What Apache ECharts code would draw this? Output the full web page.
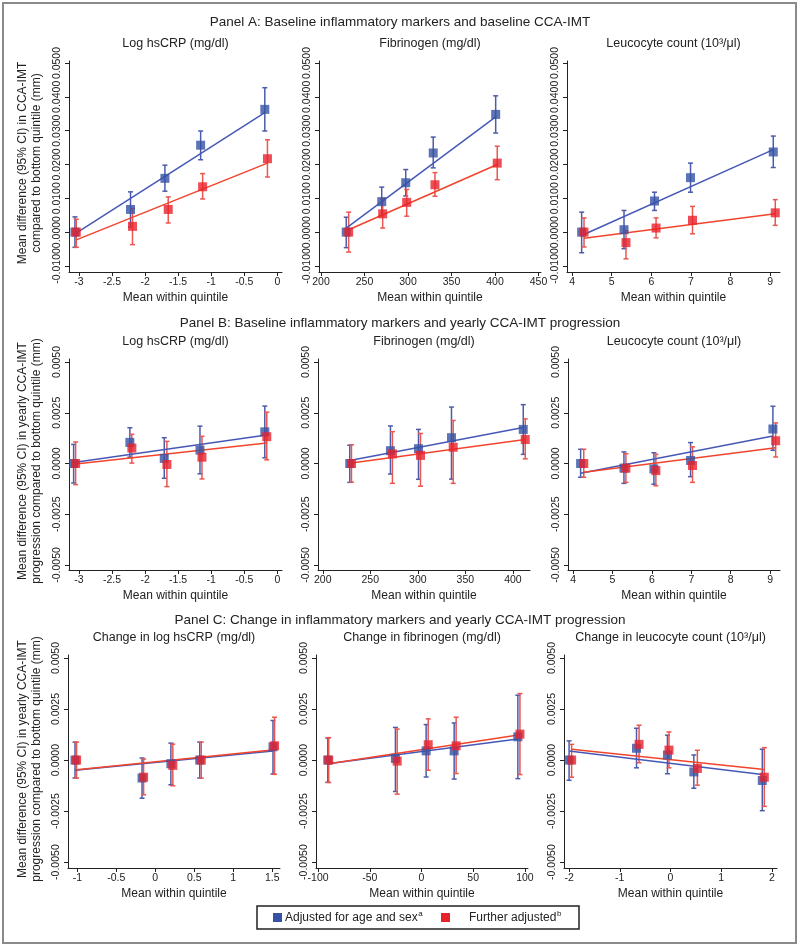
<!DOCTYPE html>
<html><head><meta charset="utf-8">
<script src="https://cdn.jsdelivr.net/npm/echarts@6/dist/echarts.min.js"></script>
<style>html,body{margin:0;padding:0;background:#fff}#c{width:800px;height:948px}</style>
</head><body><div id="c"></div>
<script>
// ---------- DATA: rows are [x (mean within quintile), mean difference, lower 95% CI, upper 95% CI] ----------
// Panel A: baseline markers vs baseline CCA-IMT
const a1Blue = [[-3.06,0.0000,-0.0045,0.0045],[-2.22,0.0067,0.0015,0.0119],[-1.70,0.0159,0.0121,0.0198],[-1.16,0.0257,0.0214,0.0299],[-0.19,0.0363,0.0299,0.0427]];
const a1Red  = [[-3.04,0.0000,-0.0045,0.0038],[-2.19,0.0017,-0.0037,0.0070],[-1.65,0.0067,0.0027,0.0104],[-1.13,0.0134,0.0098,0.0173],[-0.15,0.0217,0.0163,0.0273]];
const a1FitBlue = [[-3.06,-0.0005],[-0.19,0.0353]];
const a1FitRed  = [[-3.04,-0.0023],[-0.15,0.0204]];

const a2Blue = [[229.0,0.0000,-0.0046,0.0044],[269.8,0.0090,0.0049,0.0133],[297.4,0.0146,0.0107,0.0185],[329.0,0.0234,0.0190,0.0281],[400.8,0.0348,0.0293,0.0403]];
const a2Red  = [[231.8,0.0000,-0.0059,0.0059],[270.9,0.0054,0.0012,0.0100],[298.5,0.0088,0.0047,0.0126],[331.0,0.0140,0.0106,0.0176],[402.6,0.0204,0.0155,0.0254]];
const a2FitBlue = [[229.0,0.0012],[400.8,0.0341]];
const a2FitRed  = [[231.8,0.0007],[402.6,0.0200]];

const a3Blue = [[4.24,0.0000,-0.0061,0.0059],[5.31,0.0007,-0.0049,0.0064],[6.08,0.0092,0.0064,0.0118],[6.99,0.0161,0.0118,0.0204],[9.08,0.0237,0.0191,0.0284]];
const a3Red  = [[4.30,0.0000,-0.0044,0.0042],[5.36,-0.0031,-0.0079,0.0004],[6.12,0.0012,-0.0017,0.0042],[7.04,0.0035,-0.0005,0.0076],[9.13,0.0057,0.0020,0.0096]];
const a3FitBlue = [[4.24,-0.0010],[9.08,0.0244]];
const a3FitRed  = [[4.30,-0.0018],[9.13,0.0054]];

// Panel B: baseline markers vs yearly CCA-IMT progression
const b1Blue = [[-3.08,0,-0.00096,0.00094],[-2.23,0.00104,0.00031,0.00176],[-1.71,0.00025,-0.00073,0.00127],[-1.17,0.00066,-0.00051,0.00184],[-0.19,0.00156,0.00028,0.00283]];
const b1Red  = [[-3.05,0,-0.00104,0.00106],[-2.20,0.00076,0.00002,0.00144],[-1.67,-0.00005,-0.00114,0.00109],[-1.14,0.00031,-0.00076,0.00134],[-0.16,0.00132,0.00018,0.00253]];
const b1FitBlue = [[-3.08,0.00005],[-0.19,0.00139]];
const b1FitRed  = [[-3.05,-0.00003],[-0.16,0.00101]];

const b2Blue = [[228.4,0,-0.00093,0.00090],[271.2,0.00063,-0.00052,0.00185],[300.7,0.00073,-0.00078,0.00168],[335.4,0.00127,-0.00077,0.00278],[410.9,0.00168,0.00045,0.00290]];
const b2Red  = [[230.2,0,-0.00092,0.00092],[273.3,0.00047,-0.00098,0.00157],[302.8,0.00040,-0.00112,0.00148],[337.2,0.00080,-0.00098,0.00212],[413.0,0.00118,0.00023,0.00220]];
const b2FitBlue = [[228.4,0.00015],[410.9,0.00177]];
const b2FitRed  = [[230.2,0.00002],[413.0,0.00118]];

const b3Blue = [[4.19,0,-0.00068,0.00070],[5.29,-0.00023,-0.00098,0.00057],[6.05,-0.00027,-0.00102,0.00053],[6.98,0.00015,-0.00065,0.00103],[9.07,0.00170,0.00065,0.00282]];
const b3Red  = [[4.27,0,-0.00068,0.00070],[5.34,-0.00023,-0.00093,0.00048],[6.10,-0.00035,-0.00110,0.00045],[7.03,-0.00010,-0.00093,0.00082],[9.14,0.00112,0.00032,0.00200]];
const b3FitBlue = [[4.19,-0.00048],[9.07,0.00135]];
const b3FitRed  = [[4.27,-0.00043],[9.14,0.00077]];

// Panel C: change in markers vs yearly CCA-IMT progression
const c1Blue = [[-1.03,0,-0.00088,0.00088],[-0.17,-0.00088,-0.00187,0.00010],[0.20,-0.00018,-0.00121,0.00083],[0.57,0,-0.00088,0.00088],[1.51,0.00065,-0.00068,0.00194]];
const c1Red  = [[-1.01,0,-0.00088,0.00088],[-0.15,-0.00084,-0.00170,0.00005],[0.225,-0.00026,-0.00126,0.00078],[0.59,0,-0.00088,0.00088],[1.53,0.00070,-0.00070,0.00210]];
const c1FitBlue = [[-1.03,-0.00050],[1.51,0.00045]];
const c1FitRed  = [[-1.01,-0.00048],[1.53,0.00050]];

const c2Blue = [[-90.6,0,-0.00109,0.00108],[-25.2,0.00008,-0.00154,0.00160],[4.5,0.00045,-0.00083,0.00174],[31.6,0.00045,-0.00093,0.00182],[93.2,0.00114,-0.00091,0.00318]];
const c2Red  = [[-89.7,0,-0.00110,0.00110],[-23.5,-0.00005,-0.00167,0.00152],[6.5,0.00075,-0.00050,0.00202],[33.5,0.00070,-0.00066,0.00210],[95.2,0.00127,-0.00071,0.00326]];
const c2FitBlue = [[-90.6,-0.00018],[93.2,0.00103]];
const c2FitRed  = [[-89.7,-0.00018],[95.2,0.00124]];

const c3Blue = [[-2.00,0,-0.00099,0.00094],[-0.67,0.00058,-0.00038,0.00156],[-0.06,0.00025,-0.00067,0.00122],[0.46,-0.00058,-0.00138,0.00025],[1.81,-0.00100,-0.00248,0.00053]];
const c3Red  = [[-1.95,0,-0.00084,0.00077],[-0.62,0.00077,-0.00013,0.00171],[-0.03,0.00049,-0.00038,0.00138],[0.53,-0.00041,-0.00123,0.00048],[1.85,-0.00084,-0.00227,0.00061]];
const c3FitBlue = [[-2.00,0.00044],[1.81,-0.00071]];
const c3FitRed  = [[-1.95,0.00053],[1.85,-0.00046]];

// ---------- TICKS ----------
const xTicksLogCrp = [-3,-2.5,-2,-1.5,-1,-0.5,0];
const xTicksFibA   = [200,250,300,350,400,450];
const xTicksFibB   = [200,250,300,350,400];
const xTicksLeuco  = [4,5,6,7,8,9];
const xTicksChgCrp = [-1,-0.5,0,0.5,1,1.5];
const xTicksChgFib = [-100,-50,0,50,100];
const xTicksChgLeu = [-2,-1,0,1,2];
const yTicksA  = [-0.01,0,0.01,0.02,0.03,0.04,0.05];
const yTicksBC = [-0.005,-0.0025,0,0.0025,0.005];

// ---------- TEXT ----------
const panelTitles = ['Panel A: Baseline inflammatory markers and baseline CCA-IMT','Panel B: Baseline inflammatory markers and yearly CCA-IMT progression','Panel C: Change in inflammatory markers and yearly CCA-IMT progression'];
const subTitles = ['Log hsCRP (mg/dl)','Fibrinogen (mg/dl)','Leucocyte count (10³/μl)','Log hsCRP (mg/dl)','Fibrinogen (mg/dl)','Leucocyte count (10³/μl)','Change in log hsCRP (mg/dl)','Change in fibrinogen (mg/dl)','Change in leucocyte count (10³/μl)'];
const yNames = ['Mean difference (95% CI) in CCA-IMT\ncompared to bottom quintile (mm)','Mean difference (95% CI) in yearly CCA-IMT\nprogression compared to bottom quintile (mm)','Mean difference (95% CI) in yearly CCA-IMT\nprogression compared to bottom quintile (mm)'];
const xName = 'Mean within quintile';
const legendNames = ['Adjusted for age and sex','Further adjusted'];
const legendSup = ['a','b'];

// ---------- LAYOUT ----------
const FONT = '"Liberation Sans", Arial, Helvetica, sans-serif';
const BLUE_M = '#3552a4', BLUE_L = '#4658b6', BLUE_E = '#4a5cab';
const RED_M = '#e8222b', RED_L = '#f1442c', RED_E = '#ea5650';

const panels = [
  {blue:a1Blue, red:a1Red, fb:a1FitBlue, fr:a1FitRed, xt:xTicksLogCrp, yt:yTicksA, xr:[-3.15,0.07], yr:[-0.0118,0.0506], g:[69,61,213,211]},
  {blue:a2Blue, red:a2Red, fb:a2FitBlue, fr:a2FitRed, xt:xTicksFibA, yt:yTicksA, xr:[197.7,452.9], yr:[-0.0118,0.0506], g:[319,61,222,211]},
  {blue:a3Blue, red:a3Red, fb:a3FitBlue, fr:a3FitRed, xt:xTicksLeuco, yt:yTicksA, xr:[3.87,9.25], yr:[-0.0118,0.0506], g:[567,61,213,211]},
  {blue:b1Blue, red:b1Red, fb:b1FitBlue, fr:b1FitRed, xt:xTicksLogCrp, yt:yTicksBC, xr:[-3.15,0.07], yr:[-0.00525,0.00515], g:[69,359,213,211]},
  {blue:b2Blue, red:b2Red, fb:b2FitBlue, fr:b2FitRed, xt:xTicksFibB, yt:yTicksBC, xr:[195,418], yr:[-0.00525,0.00515], g:[318,359,212,211]},
  {blue:b3Blue, red:b3Red, fb:b3FitBlue, fr:b3FitRed, xt:xTicksLeuco, yt:yTicksBC, xr:[3.87,9.25], yr:[-0.00525,0.00515], g:[568,359,212,211]},
  {blue:c1Blue, red:c1Red, fb:c1FitBlue, fr:c1FitRed, xt:xTicksChgCrp, yt:yTicksBC, xr:[-1.12,1.6], yr:[-0.00529,0.00515], g:[68,655,212,213]},
  {blue:c2Blue, red:c2Red, fb:c2FitBlue, fr:c2FitRed, xt:xTicksChgFib, yt:yTicksBC, xr:[-102,103], yr:[-0.00529,0.00515], g:[316,655,212,213]},
  {blue:c3Blue, red:c3Red, fb:c3FitBlue, fr:c3FitRed, xt:xTicksChgLeu, yt:yTicksBC, xr:[-2.1,2.1], yr:[-0.00529,0.00515], g:[564,655,213,213]}
];

function errRender(color){
  return function(params, api){
    const x = api.value(0), lo = api.value(1), hi = api.value(2);
    const pH = api.coord([x, hi]), pL = api.coord([x, lo]);
    const w = 2.5, st = {stroke:color, lineWidth:1.5};
    return {type:'group', children:[
      {type:'line', shape:{x1:pH[0],y1:pH[1],x2:pL[0],y2:pL[1]}, style:st},
      {type:'line', shape:{x1:pH[0]-w,y1:pH[1],x2:pH[0]+w,y2:pH[1]}, style:st},
      {type:'line', shape:{x1:pL[0]-w,y1:pL[1],x2:pL[0]+w,y2:pL[1]}, style:st}
    ]};
  };
}

const grid=[], xAxis=[], yAxis=[], series=[], graphic=[];
const axCommon = {
  type:'value', splitLine:{show:false},
  axisLine:{show:true, onZero:false, lineStyle:{color:'#222', width:1}},
};
panels.forEach((p,i)=>{
  grid.push({left:p.g[0], top:p.g[1], width:p.g[2], height:p.g[3], containLabel:false});
  xAxis.push(Object.assign({}, axCommon, {gridIndex:i, min:p.xr[0], max:p.xr[1],
    axisTick:{show:true, length:4, customValues:p.xt, lineStyle:{color:'#222'}},
    axisLabel:{customValues:p.xt, formatter:v=>String(v), fontSize:10.5, color:'#222', margin:5, fontFamily:FONT}}));
  yAxis.push(Object.assign({}, axCommon, {gridIndex:i, min:p.yr[0], max:p.yr[1],
    axisTick:{show:true, length:4, customValues:p.yt, lineStyle:{color:'#222'}},
    axisLabel:{customValues:p.yt, formatter:v=>v.toFixed(4), rotate:90, fontSize:10.5, color:'#222', margin:6, fontFamily:FONT}}));
  series.push({type:'custom', xAxisIndex:i, yAxisIndex:i, renderItem:errRender(BLUE_E), encode:{x:0,y:[1,2]},
    data:p.blue.map(r=>[r[0],r[2],r[3]]), z:2, silent:true});
  series.push({type:'custom', xAxisIndex:i, yAxisIndex:i, renderItem:errRender(RED_E), encode:{x:0,y:[1,2]},
    data:p.red.map(r=>[r[0],r[2],r[3]]), z:3, silent:true});
  series.push({type:'line', xAxisIndex:i, yAxisIndex:i, data:p.fb, symbol:'none', lineStyle:{color:BLUE_L, width:1.5}, z:4, silent:true});
  series.push({type:'line', xAxisIndex:i, yAxisIndex:i, data:p.fr, symbol:'none', lineStyle:{color:RED_L, width:1.5}, z:4, silent:true});
  series.push({type:'scatter', xAxisIndex:i, yAxisIndex:i, data:p.blue.map(r=>[r[0],r[1]]), symbol:'rect', symbolSize:9, itemStyle:{color:BLUE_M}, z:5, silent:true});
  series.push({type:'scatter', xAxisIndex:i, yAxisIndex:i, data:p.red.map(r=>[r[0],r[1]]), symbol:'rect', symbolSize:9, itemStyle:{color:RED_M}, z:6, silent:true});
  graphic.push({type:'text', x:p.g[0]+p.g[2]/2, y:p.g[1]-17, style:{text:subTitles[i], font:'12.5px '+FONT, fill:'#222', textAlign:'center', textVerticalAlign:'middle'}});
  graphic.push({type:'text', x:p.g[0]+p.g[2]/2, y:p.g[1]+p.g[3]+26, style:{text:xName, font:'12px '+FONT, fill:'#222', textAlign:'center', textVerticalAlign:'middle'}});
});
[22, 323, 620].forEach((y,k)=>{
  graphic.push({type:'text', x:400, y:y, style:{text:panelTitles[k], font:'13.5px '+FONT, fill:'#222', textAlign:'center', textVerticalAlign:'middle'}});
});
[163, 461, 759].forEach((y,k)=>{
  graphic.push({type:'text', x:30, y:y, rotation:Math.PI/2, style:{text:yNames[k], font:'12px '+FONT, lineHeight:14, fill:'#222', textAlign:'center', textVerticalAlign:'middle'}});
});
graphic.push({type:'rect', shape:{x:3,y:3,width:793,height:940}, style:{fill:null, stroke:'#8a8a8a', lineWidth:2}, z:-1});
const ctx = document.createElement('canvas').getContext('2d');
ctx.font = '12px '+FONT;
graphic.push({type:'rect', shape:{x:257,y:906,width:322,height:23}, style:{fill:'#fff', stroke:'#222', lineWidth:1.5}});
const legX = [[273,285],[441,469]], legC = [BLUE_M, RED_M];
legX.forEach((lx,k)=>{
  graphic.push({type:'rect', shape:{x:lx[0],y:913,width:9,height:9}, style:{fill:legC[k]}});
  graphic.push({type:'text', x:lx[1], y:918, style:{text:legendNames[k], font:'12px '+FONT, fill:'#222', textAlign:'left', textVerticalAlign:'middle'}});
  const w = ctx.measureText(legendNames[k]).width;
  graphic.push({type:'text', x:lx[1]+w+0.5, y:914, style:{text:legendSup[k], font:'8px '+FONT, fill:'#222', textAlign:'left', textVerticalAlign:'middle'}});
});

const chart = echarts.init(document.getElementById('c'), null, {renderer:'canvas'});
chart.setOption({animation:false, backgroundColor:'#fff', grid, xAxis, yAxis, series, graphic});
</script></body></html>
